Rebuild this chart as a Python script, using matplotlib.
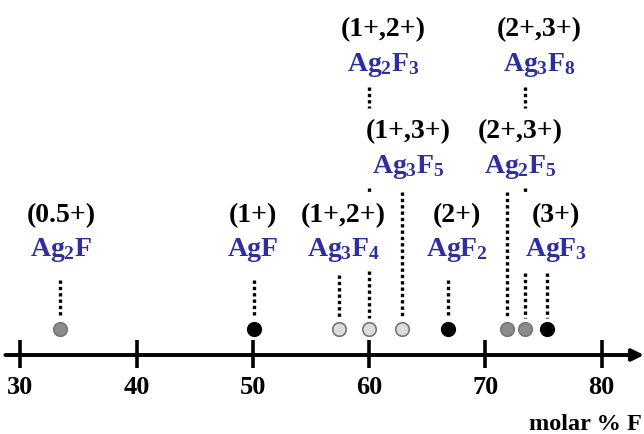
import matplotlib
matplotlib.use("Agg")
import matplotlib.pyplot as plt

plt.rcParams['font.family'] = ['Liberation Serif', 'DejaVu Serif']
plt.rcParams['font.weight'] = 'bold'
plt.rcParams['mathtext.fontset'] = 'custom'
plt.rcParams['mathtext.rm'] = 'Liberation Serif:bold'
plt.rcParams['mathtext.it'] = 'Liberation Serif:bold'
plt.rcParams['mathtext.bf'] = 'Liberation Serif:bold'

# compounds along the molar % F axis
formulas = ["$Ag_2F$", "AgF", "$Ag_3F_4$", "$Ag_2F_3$", "$Ag_3F_5$",
            "$AgF_2$", "$Ag_2F_5$", "$Ag_3F_8$", "$AgF_3$"]
charges = ["(0.5+)", "(1+)", "(1+,2+)", "(1+,2+)", "(1+,3+)",
           "(2+)", "(2+,3+)", "(2+,3+)", "(3+)"]
molar_F = [33.4, 50.1, 57.4, 60.0, 62.8, 66.8, 71.9, 73.4, 75.3]
dot_fill = ["#8c8c8c", "black", "#dcdcdc", "#dcdcdc", "#dcdcdc",
            "black", "#8c8c8c", "#8c8c8c", "black"]
ticks = [30, 40, 50, 60, 70, 80]

# layout (y in pixels from top)
row = [0, 0, 0, 2, 1, 0, 1, 2, 0]
label_x = [33.5, 50.0, 57.8, 61.2, 63.4, 67.6, 73.0, 74.6, 76.1]
row_y = {0: (216, 250), 1: (132, 167), 2: (30, 65)}
segments = [[(280, 318)], [(280, 318)], [(275, 318)],
            [(87, 108), (188, 192), (271, 318)],
            [(192, 318)], [(280, 318)], [(192, 318)],
            [(87, 108), (188, 192), (273, 318)], [(273, 318)]]

fig = plt.figure(figsize=(6.44, 4.34), dpi=100)
ax = fig.add_axes([0, 0, 1, 1])
ax.set_xlim(28.236, 83.657)
ax.set_ylim(434, 0)
ax.axis('off')

blue = "#2e2ea3"
axis_y = 355

# number line with arrow
ax.annotate("", xy=(83.65, axis_y), xytext=(28.7, axis_y),
            arrowprops=dict(arrowstyle="-|>,head_length=0.7,head_width=0.35",
                            lw=2.8, color="black", shrinkA=0, shrinkB=0))
for t in ticks:
    ax.plot([t, t], [340, 368], color="black", lw=2.6, solid_capstyle='butt')
    ax.text(t, 388, str(t), ha='center', va='center', fontsize=19)

ax.text(83.5, 425, "molar % F", ha='right', va='center', fontsize=17.5)

for i, x in enumerate(molar_F):
    for y0, y1 in segments[i]:
        ax.plot([x, x], [y0, y1], color="black", lw=2.4,
                linestyle=(0, (1, 0.9)), dash_capstyle='butt')
    edge = "#777777" if dot_fill[i] != "black" else "black"
    ax.scatter([x], [329], s=95, facecolor=dot_fill[i], edgecolor=edge,
               linewidth=1.2, zorder=3)
    cy, fy = row_y[row[i]]
    ax.text(label_x[i], cy, charges[i], ha='center', va='center',
            fontsize=20, color="black")
    ax.text(label_x[i], fy, formulas[i], ha='center', va='center',
            fontsize=20, color=blue)

fig.savefig("out.png", dpi=100)
